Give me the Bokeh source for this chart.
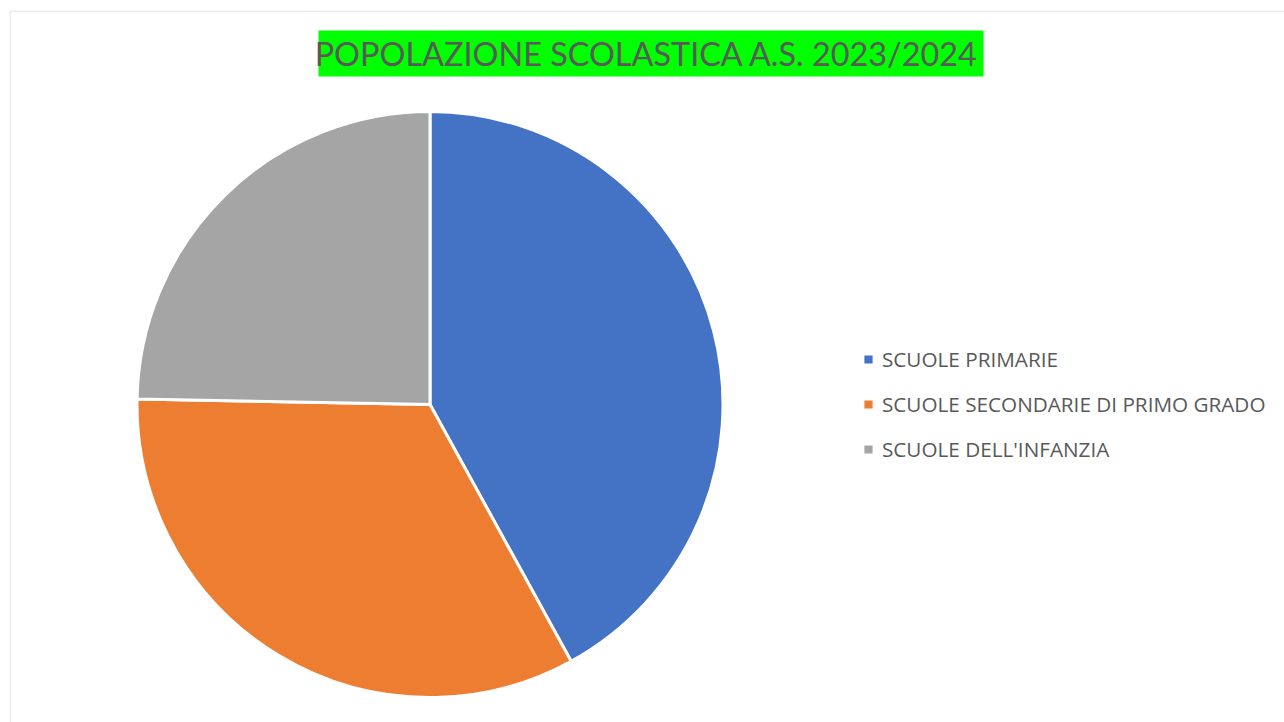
import numpy as np
from bokeh.plotting import figure
from bokeh.models import Label, BoxAnnotation, Legend, LegendItem, Span
from bokeh.embed import file_html
from bokeh.resources import INLINE

title_text = "POPOLAZIONE SCOLASTICA  A.S. 2023/2024"
categories = ["SCUOLE PRIMARIE", "SCUOLE SECONDARIE DI PRIMO GRADO", "SCUOLE DELL'INFANZIA"]
values = [420, 333, 247]
colors = ["#4472C4", "#ED7D31", "#A5A5A5"]

W, H = 1275, 712
p = figure(width=W + 9, height=H + 10, x_range=(0, W), y_range=(0, H),
           output_backend="svg", toolbar_location=None,
           min_border_left=9, min_border_top=10, min_border_right=0, min_border_bottom=0)
p.axis.visible = False
p.grid.visible = False
p.outline_line_color = None
p.background_fill_color = "white"
p.border_fill_color = "white"
p.add_layout(Span(location=0.5, dimension="height", line_color="#D9D9D9", line_width=1))
p.add_layout(Span(location=H - 0.5, dimension="width", line_color="#D9D9D9", line_width=1))

vals = np.array(values, dtype=float)
frac = vals / vals.sum()
cum = np.concatenate([[0], np.cumsum(frac)])
start = np.pi / 2 - cum[1:] * 2 * np.pi
end = np.pi / 2 - cum[:-1] * 2 * np.pi

cx, cy, r = 420.5, 318, 293
items = []
for i in range(len(values)):
    g = p.wedge(x=cx, y=cy, radius=r, start_angle=start[i], end_angle=end[i],
                fill_color=colors[i], line_color="white", line_width=3)
    items.append(LegendItem(label=categories[i], renderers=[g]))

legend = Legend(items=items, location=(852, 259), orientation="vertical",
                label_text_font="Open Sans", label_text_font_size="20.7px",
                label_text_color="#595959", glyph_width=14, glyph_height=14,
                label_height=28, label_standoff=7, spacing=17, padding=0, margin=0,
                border_line_color=None, background_fill_alpha=0)
p.add_layout(legend, "center")

p.add_layout(BoxAnnotation(left=309, right=974, top=692, bottom=646,
                           fill_color="#00FF00", fill_alpha=1, line_color=None))
p.add_layout(Label(x=641.5, y=669, text=title_text, text_align="center",
                   text_baseline="middle", text_font="Lato", text_font_size="32.4px",
                   text_color="#595959"))

open("out.html", "w").write(file_html(p, INLINE))
